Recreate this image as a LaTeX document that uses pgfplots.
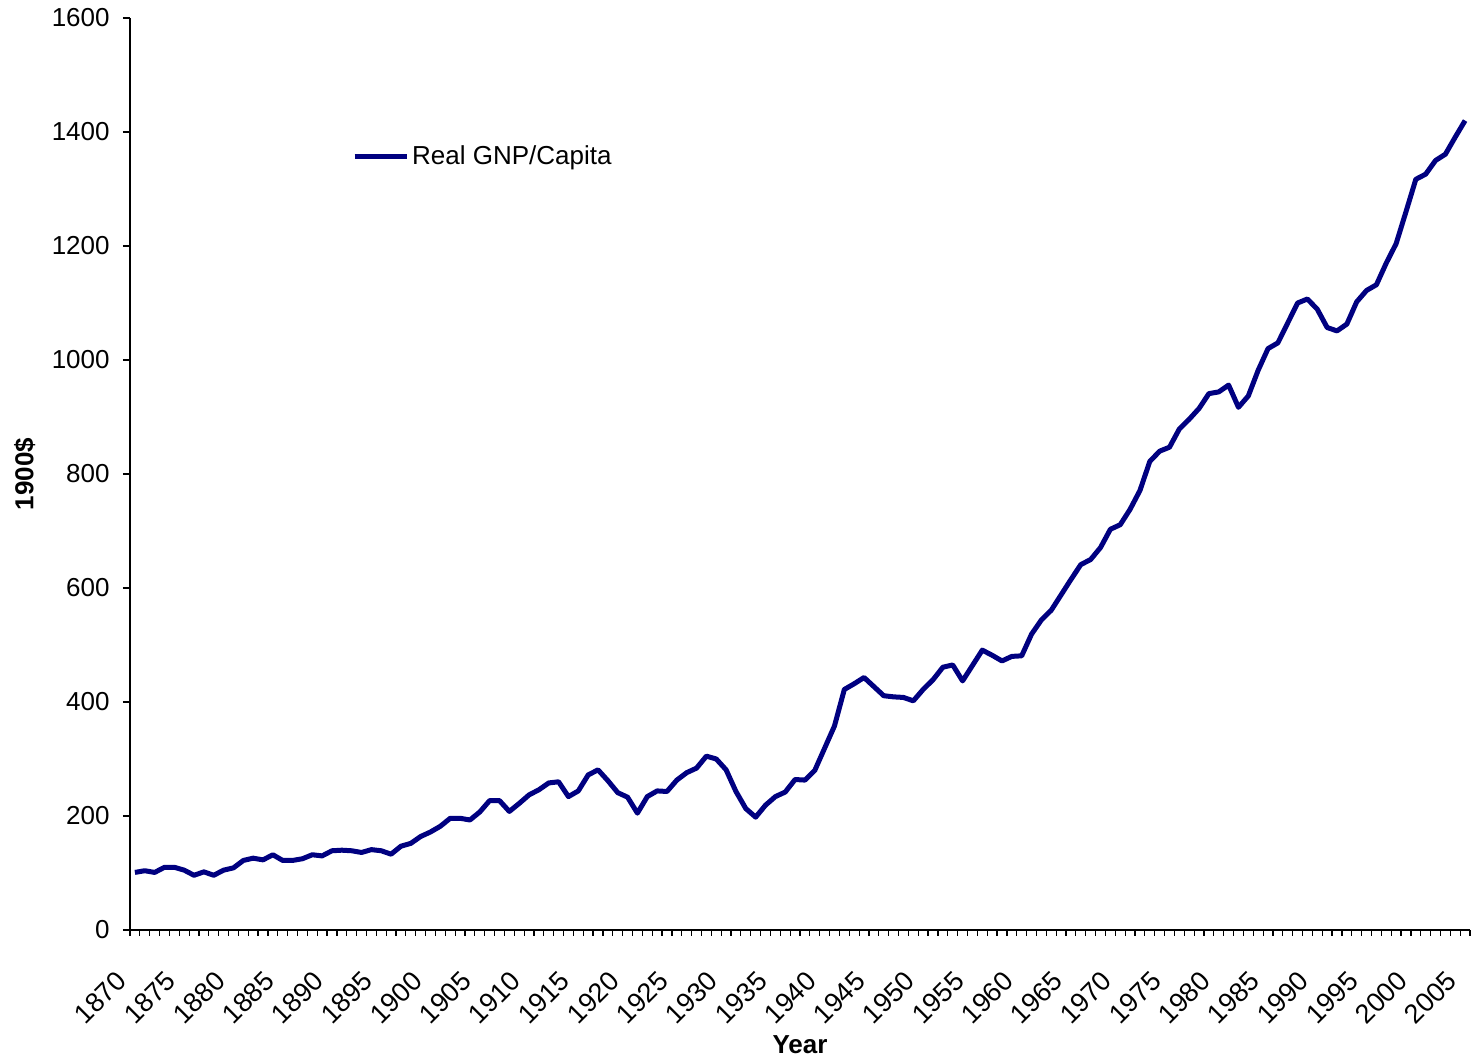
\documentclass[border=0pt]{standalone}
\usepackage{pgfplots}
\pgfplotsset{compat=1.18}
\usepackage{fontspec}
\setmainfont{Liberation Sans}
\definecolor{navyline}{RGB}{0,0,128}
\begin{document}
\begin{tikzpicture}
\begin{axis}[
  name=ax,
  scale only axis,
  width=670pt, height=456pt,
  xmin=1869.5, xmax=2005.5,
  ymin=0, ymax=1600,
  axis x line=bottom, axis y line=left,
  axis line style={-, line width=0.6pt, black},
  xtick={1870,1875,...,2005},
  major x tick style={draw=none},
  minor xtick={1869.5,1870.5,...,2005.5},
  minor x tick style={line width=0.6pt, black},
  minor tick length=3pt,
  ytick={0,200,...,1600},
  major tick length=3.5pt,
  major y tick style={line width=0.6pt, black},
  tick align=outside,
  /pgf/number format/assume math mode=true,
  /pgf/number format/1000 sep={},
  ticklabel style={font=\fontsize{13pt}{15pt}\selectfont},
  yticklabel style={anchor=east, inner sep=0pt, xshift=-6.5pt},
  xticklabel style={yshift=-19.5pt, xshift=-6.5pt, rotate=45, anchor=east, inner sep=0pt,
    font=\fontsize{13.5pt}{15pt}\selectfont},
  xlabel={\textbf{Year}},
  ylabel={\textbf{1900\$}},
  label style={font=\fontsize{13pt}{15pt}\selectfont},
  xlabel style={at={(axis description cs:0.5,-0.1349)}, anchor=base},
  ylabel style={at={(axis description cs:-0.0721,0.5)}, anchor=base},
  legend style={draw=none, fill=none, at={(rel axis cs:0.1655,0.848)}, anchor=west,
    font=\fontsize{13pt}{15pt}\selectfont, inner sep=0pt,
    nodes={inner sep=1.5pt}},
  legend image code/.code={\draw[#1] (0pt,0pt) -- (26pt,0pt);},
  clip=false,
]
\addplot[navyline, line width=2.5pt, line join=round] coordinates {
(1870,101) (1871,104) (1872,101) (1873,110) (1874,110) (1875,105) (1876,96) (1877,102) (1878,96) (1879,105)
(1880,109) (1881,122) (1882,126) (1883,123) (1884,132) (1885,122) (1886,122) (1887,125) (1888,132) (1889,130)
(1890,139) (1891,140) (1892,139) (1893,136) (1894,141) (1895,139) (1896,133) (1897,147) (1898,152) (1899,164)
(1900,172) (1901,182) (1902,196) (1903,196) (1904,193) (1905,207) (1906,227) (1907,227) (1908,208) (1909,222)
(1910,237) (1911,246) (1912,258) (1913,260) (1914,234) (1915,244) (1916,272) (1917,281) (1918,262) (1919,241)
(1920,233) (1921,205) (1922,234) (1923,244) (1924,243) (1925,263) (1926,276) (1927,284) (1928,305) (1929,300)
(1930,281) (1931,243) (1932,213) (1933,198) (1934,219) (1935,234) (1936,242) (1937,264) (1938,263) (1939,280)
(1940,319) (1941,358) (1942,422) (1943,432) (1944,443) (1945,427) (1946,411) (1947,409) (1948,408) (1949,402)
(1950,422) (1951,439) (1952,461) (1953,465) (1954,437) (1955,464) (1956,491) (1957,482) (1958,472) (1959,480)
(1960,481) (1961,519) (1962,544) (1963,561) (1964,588) (1965,615) (1966,641) (1967,650) (1968,671) (1969,703)
(1970,711) (1971,738) (1972,771) (1973,822) (1974,840) (1975,847) (1976,879) (1977,896) (1978,915) (1979,941)
(1980,944) (1981,956) (1982,917) (1983,937) (1984,982) (1985,1020) (1986,1030) (1987,1065) (1988,1100) (1989,1107)
(1990,1089) (1991,1057) (1992,1051) (1993,1063) (1994,1102) (1995,1122) (1996,1132) (1997,1170) (1998,1204) (1999,1260)
(2000,1317) (2001,1326) (2002,1350) (2003,1361) (2004,1391) (2005,1420)
};
\addlegendentry{Real GNP/Capita}
\end{axis}
\pgfresetboundingbox
\path ([shift={(-65pt,-66.5pt)}]ax.south west) rectangle ++(735.5pt,531.5pt);
\end{tikzpicture}
\end{document}
